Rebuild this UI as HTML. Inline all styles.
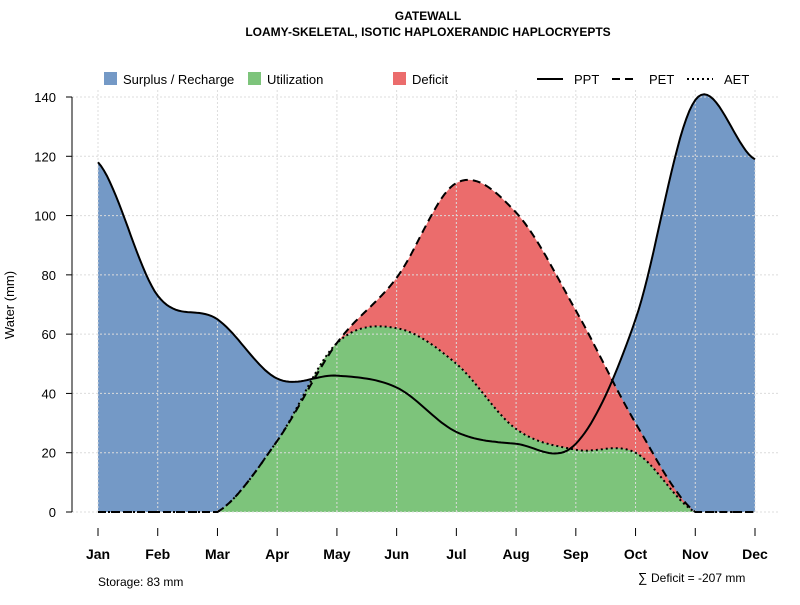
<!DOCTYPE html>
<html><head><meta charset="utf-8"><style>
body{margin:0;background:#fff}
svg text{font-family:"Liberation Sans",sans-serif}
</style></head><body>
<svg id="c" width="800" height="600" xmlns="http://www.w3.org/2000/svg">
<text x="428" y="20" text-anchor="middle" font-size="12" font-weight="bold">GATEWALL</text>
<text x="428" y="36" text-anchor="middle" font-size="12" font-weight="bold">LOAMY-SKELETAL, ISOTIC HAPLOXERANDIC HAPLOCRYEPTS</text>
<g>
<rect x="104" y="72" width="13" height="13" fill="#7499c6"/>
<text x="123" y="84" font-size="13">Surplus / Recharge</text>
<rect x="248" y="72" width="13" height="13" fill="#7dc47b"/>
<text x="267" y="84" font-size="13">Utilization</text>
<rect x="393" y="72" width="13" height="13" fill="#eb6c6c"/>
<text x="412" y="84" font-size="13">Deficit</text>
<line x1="537" y1="79" x2="563" y2="79" stroke="#000" stroke-width="2"/>
<text x="574" y="84" font-size="13">PPT</text>
<line x1="612" y1="79" x2="638" y2="79" stroke="#000" stroke-width="2" stroke-dasharray="8,5"/>
<text x="649" y="84" font-size="13">PET</text>
<line x1="687" y1="79" x2="713" y2="79" stroke="#000" stroke-width="2" stroke-dasharray="2,3"/>
<text x="724" y="84" font-size="13">AET</text>
</g>
<g id="plot"></g>
<text x="14" y="305" font-size="13" text-anchor="middle" transform="rotate(-90 14 305)">Water (mm)</text>
<text x="98" y="586" font-size="12">Storage: 83 mm</text>
<text x="638" y="582" font-size="13">∑</text>
<text x="651" y="582" font-size="12">Deficit = -207 mm</text>
</svg>
<script>
const months=["Jan","Feb","Mar","Apr","May","Jun","Jul","Aug","Sep","Oct","Nov","Dec"];
const ppt=[118,73,65,45,46,42,27,23,23,65,139,119];
const pet=[0,0,0,24,57,79,111,101,68,30,0,0];
const aet=[0,0,0,24,57,62,50,28,21,20,0,0];
const yTicks=[0,20,40,60,80,100,120,140];
const NS="http://www.w3.org/2000/svg";
const g=document.getElementById("plot");
const X=i=>98+i*(755-98)/11;
const Y=v=>512-v*(415/140);
function mk(t,a){const e=document.createElementNS(NS,t);for(const k in a)e.setAttribute(k,a[k]);g.appendChild(e);return e;}
function spline(arr){
  const pts=[];
  for(let i=0;i<arr.length-1;i++){
    const p0=arr[Math.max(i-1,0)],p1=arr[i],p2=arr[i+1],p3=arr[Math.min(i+2,arr.length-1)];
    for(let s=0;s<20;s++){const t=s/20,t2=t*t,t3=t2*t;
      let v=0.5*((2*p1)+(-p0+p2)*t+(2*p0-5*p1+4*p2-p3)*t2+(-p0+3*p1-3*p2+p3)*t3);
      pts.push([X(i+t),Math.max(0,v)]);}
  }
  pts.push([X(arr.length-1),arr[arr.length-1]]);return pts;
}
const sP=spline(ppt),sE=spline(pet),sA=spline(aet);
const toStr=p=>p.map(q=>q[0].toFixed(1)+","+Y(q[1]).toFixed(1)).join(" ");
const base=[[X(11),0],[X(0),0]];
let e;
e=mk("polygon",{points:toStr(sP.concat(base)),fill:"#7499c6"});


e=mk("polygon",{points:toStr(sE.concat(sA.slice().reverse())),fill:"#eb6c6c"});


e=mk("polygon",{points:toStr(sA.concat(base)),fill:"#7dc47b"});


yTicks.forEach(v=>{
  e=mk("line",{x1:72,x2:780,y1:Y(v),y2:Y(v),stroke:"#dcdcdc","stroke-dasharray":"2,2"});
  
  
  e=mk("line",{x1:66,x2:72,y1:Y(v),y2:Y(v),stroke:"#000"});
  
  
  e=mk("text",{x:56,y:Y(v)+5,"text-anchor":"end","font-size":"13"});e.textContent=v;
  
  
});
e=mk("line",{x1:72,x2:72,y1:Y(140),y2:Y(0),stroke:"#000"});


months.forEach((m,i)=>{
  e=mk("line",{x1:X(i),x2:X(i),y1:90,y2:512,stroke:"#dcdcdc","stroke-dasharray":"2,2"});
  
  
  e=mk("line",{x1:X(i),x2:X(i),y1:528,y2:536,stroke:"#000"});
  
  
  e=mk("text",{x:X(i),y:559,"text-anchor":"middle","font-size":"14","font-weight":"bold"});e.textContent=m;
  
  
});
e=mk("polyline",{points:toStr(sA),fill:"none",stroke:"#000","stroke-width":2,"stroke-dasharray":"2,3"});


e=mk("polyline",{points:toStr(sE),fill:"none",stroke:"#000","stroke-width":2,"stroke-dasharray":"8,5"});


e=mk("polyline",{points:toStr(sP),fill:"none",stroke:"#000","stroke-width":2});


</script>
</body></html>
